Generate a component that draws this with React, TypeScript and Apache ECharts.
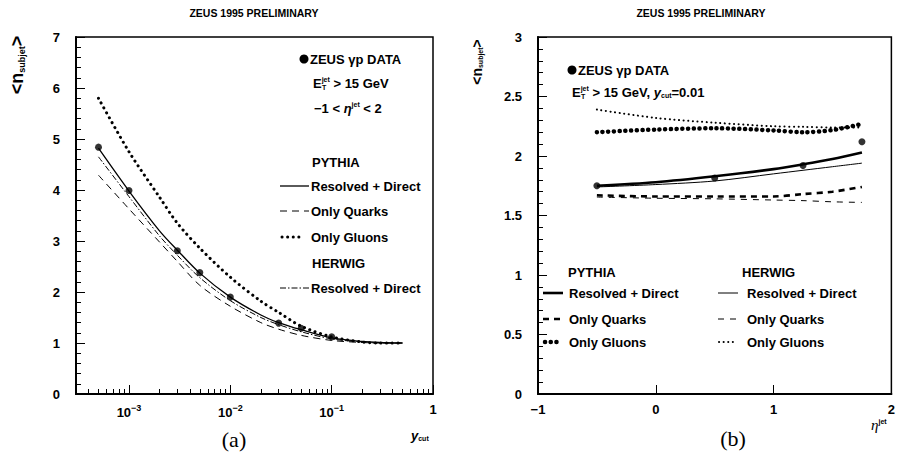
import React, { useEffect, useRef } from "react";
import * as echarts from "echarts";

// ---------- Panel (a): <n_subjet> vs y_cut ----------
const ycutValues = [0.0005, 0.001, 0.002, 0.003, 0.005, 0.01, 0.02, 0.03, 0.05, 0.1, 0.2, 0.3, 0.5];
const pythiaResolvedA = [4.82, 3.98, 3.2, 2.82, 2.37, 1.9, 1.55, 1.4, 1.26, 1.1, 1.03, 1.01, 1.0];
const pythiaQuarksA = [4.29, 3.63, 2.98, 2.6, 2.13, 1.72, 1.4, 1.27, 1.15, 1.05, 1.01, 1.0, 1.0];
const pythiaGluonsA = [5.8, 4.75, 3.86, 3.35, 2.86, 2.29, 1.82, 1.6, 1.33, 1.12, 1.02, 1.0, 1.0];
const herwigResolvedA = [4.65, 3.87, 3.1, 2.72, 2.28, 1.83, 1.5, 1.36, 1.22, 1.08, 1.02, 1.0, 1.0];
const dataYcutA = [0.0005, 0.001, 0.003, 0.005, 0.01, 0.03, 0.05, 0.1];
const dataNSubjetA = [4.84, 3.99, 2.81, 2.38, 1.9, 1.39, 1.29, 1.12];
const yTicksA = [0, 1, 2, 3, 4, 5, 6, 7];
const xDecadesA = [-3, -2, -1, 0];

// ---------- Panel (b): <n_subjet> vs eta_jet ----------
const etaValues = [-0.5, 0, 0.5, 1.0, 1.25, 1.5, 1.75];
const pythiaResolvedB = [1.75, 1.78, 1.83, 1.89, 1.93, 1.975, 2.03];
const pythiaQuarksB = [1.67, 1.66, 1.66, 1.66, 1.68, 1.7, 1.74];
const pythiaGluonsB = [2.2, 2.222, 2.233, 2.215, 2.2, 2.218, 2.27];
const herwigResolvedB = [1.74, 1.76, 1.79, 1.85, 1.88, 1.91, 1.94];
const herwigQuarksB = [1.655, 1.645, 1.64, 1.63, 1.625, 1.615, 1.61];
const herwigGluonsB = [2.39, 2.32, 2.28, 2.25, 2.245, 2.24, 2.24];
const dataEtaB = [-0.5, 0.5, 1.25, 1.75];
const dataNSubjetB = [1.75, 1.815, 1.92, 2.12];

const FONT = '"Liberation Sans", Arial, Helvetica, sans-serif';
const SERIF = '"Liberation Serif", "DejaVu Serif", serif';
const LOG_MIN = Math.log10(0.0003);
const LOG_MAX = 0;

const minorLogTicks: number[] = [];
for (let d = -4; d < 0; d++) {
  for (let k = 2; k <= 9; k++) {
    const v = Math.log10(k * Math.pow(10, d));
    if (v > LOG_MIN + 1e-6 && v < LOG_MAX) minorLogTicks.push(v);
  }
}

const toLogPairs = (xs: number[], ys: number[]) => xs.map((x, i) => [Math.log10(x), ys[i]]);
const toPairs = (xs: number[], ys: number[]) => xs.map((x, i) => [x, ys[i]]);

const richBase = {
  m: { fontSize: 13, fontWeight: "bold", fontFamily: FONT, fill: "#000" },
  i: { fontSize: 13, fontWeight: "bold", fontStyle: "italic", fontFamily: FONT, fill: "#000" },
  s: { fontSize: 7, fontWeight: "bold", fontFamily: FONT, fill: "#000", padding: [0, 0, 8, 0] },
  d: { fontSize: 7, fontWeight: "bold", fontFamily: FONT, fill: "#000", padding: [6, 0, 0, 0] },
};

function label(x: number, y: number, text: string, size = 13, opts: any = {}) {
  return {
    type: "text",
    x,
    y,
    z: 10,
    style: {
      text,
      fontSize: size,
      fontWeight: "bold",
      fontFamily: FONT,
      fill: "#000",
      align: "left",
      verticalAlign: "middle",
      ...opts,
    },
  };
}
function rich(x: number, y: number, text: string, opts: any = {}) {
  return {
    type: "text",
    x,
    y,
    z: 10,
    style: { text, rich: richBase, fill: "#000", align: "left", verticalAlign: "middle", ...opts },
  };
}
function sample(x1: number, x2: number, y: number, lineWidth: number, lineDash?: number[], cap = "butt") {
  return {
    type: "line",
    z: 10,
    shape: { x1, y1: y, x2, y2: y },
    style: { stroke: "#000", lineWidth, lineDash: lineDash || null, lineCap: cap },
  };
}
function yTitle(x: number, y: number, big: number, small: number) {
  return {
    type: "text",
    x,
    y,
    rotation: Math.PI / 2,
    z: 10,
    style: {
      text: "{a|<n}{s|subjet}{a|>}",
      align: "center",
      verticalAlign: "middle",
      fill: "#000",
      rich: {
        a: { fontSize: big, fontWeight: "bold", fontFamily: FONT, fill: "#000" },
        s: { fontSize: small, fontWeight: "bold", fontFamily: FONT, fill: "#000", padding: [small, 0, 0, 0] },
      },
    },
  };
}

const axisLineStyle = { color: "#000", width: 2 };
const labelStyle = { fontSize: 13, fontWeight: "bold", fontFamily: FONT, color: "#000" };

export default function App() {
  const ref = useRef<HTMLDivElement>(null);
  useEffect(() => {
    if (!ref.current) return;
    const chart = echarts.init(ref.current, undefined, { renderer: "svg" });
    const line = (xi: number, yi: number, data: number[][], lineStyle: any, z = 3) => ({
      type: "line",
      xAxisIndex: xi,
      yAxisIndex: yi,
      data,
      symbol: "none",
      smooth: 0.3,
      lineStyle: { color: "#000", ...lineStyle },
      z,
      silent: true,
    });
    const option: any = {
      animation: false,
      backgroundColor: "#fff",
      grid: [
        { left: 76, right: 465, top: 37, bottom: 64, show: true, borderColor: "#000", borderWidth: 1.5 },
        { left: 538, right: 3, top: 37, bottom: 64, show: true, borderColor: "#000", borderWidth: 1.5 },
      ],
      xAxis: [
        {
          type: "value",
          gridIndex: 0,
          min: LOG_MIN,
          max: LOG_MAX,
          axisLine: { onZero: false, lineStyle: axisLineStyle },
          axisTick: { inside: true, length: 9, customValues: xDecadesA, lineStyle: { color: "#000" } },
          axisLabel: {
            customValues: xDecadesA,
            margin: 9,
            formatter: (v: number) => (v === 0 ? "{b|1}" : "{b|10}{s|−" + Math.abs(v) + "}"),
            rich: {
              b: { ...labelStyle },
              s: { fontSize: 9, fontWeight: "bold", fontFamily: FONT, color: "#000", padding: [0, 0, 10, 0] },
            },
          },
          splitLine: { show: false },
        },
        {
          type: "value",
          gridIndex: 0,
          position: "bottom",
          min: LOG_MIN,
          max: LOG_MAX,
          axisLine: { show: false, onZero: false },
          axisTick: { inside: true, length: 5, customValues: minorLogTicks, lineStyle: { color: "#000" } },
          axisLabel: { show: false },
          splitLine: { show: false },
        },
        {
          type: "value",
          gridIndex: 1,
          min: -1,
          max: 2,
          interval: 1,
          axisLine: { onZero: false, lineStyle: axisLineStyle },
          axisTick: { inside: true, length: 9, lineStyle: { color: "#000" } },
          axisLabel: { ...labelStyle, margin: 9, formatter: (v: number) => (v < 0 ? "−" + Math.abs(v) : String(v)) },
          splitLine: { show: false },
        },
      ],
      yAxis: [
        {
          type: "value",
          gridIndex: 0,
          min: yTicksA[0],
          max: yTicksA[yTicksA.length - 1],
          interval: 1,
          axisLine: { onZero: false, lineStyle: axisLineStyle },
          axisTick: { inside: true, length: 9, lineStyle: { color: "#000" } },
          minorTick: { show: true, splitNumber: 5, length: 5, lineStyle: { color: "#000" } },
          axisLabel: { ...labelStyle, margin: 16 },
          splitLine: { show: false },
        },
        {
          type: "value",
          gridIndex: 1,
          min: 0,
          max: 3,
          interval: 0.5,
          axisLine: { onZero: false, lineStyle: axisLineStyle },
          axisTick: { inside: true, length: 9, lineStyle: { color: "#000" } },
          minorTick: { show: true, splitNumber: 5, length: 5, lineStyle: { color: "#000" } },
          axisLabel: { ...labelStyle, margin: 16 },
          splitLine: { show: false },
        },
      ],
      series: [
        line(0, 0, toLogPairs(ycutValues, pythiaResolvedA), { width: 1.3 }),
        line(0, 0, toLogPairs(ycutValues, pythiaQuarksA), { width: 1, type: [7, 5] }),
        line(0, 0, toLogPairs(ycutValues, pythiaGluonsA), { width: 3, type: [0.1, 5.5], cap: "round" }),
        line(0, 0, toLogPairs(ycutValues, herwigResolvedA), { width: 1, type: [6, 2, 1.5, 2] }),
        {
          type: "scatter",
          xAxisIndex: 0,
          yAxisIndex: 0,
          data: toLogPairs(dataYcutA, dataNSubjetA),
          symbol: "circle",
          symbolSize: 7,
          itemStyle: { color: "#000" },
          z: 5,
          silent: true,
        },
        line(2, 1, toPairs(etaValues, pythiaResolvedB), { width: 2.6 }),
        line(2, 1, toPairs(etaValues, herwigResolvedB), { width: 1 }),
        line(2, 1, toPairs(etaValues, pythiaQuarksB), { width: 2.6, type: [6, 5] }),
        line(2, 1, toPairs(etaValues, herwigQuarksB), { width: 1, type: [6, 6] }),
        line(2, 1, toPairs(etaValues, pythiaGluonsB), { width: 4.5, type: [0.1, 5.6], cap: "round" }),
        line(2, 1, toPairs(etaValues, herwigGluonsB), { width: 2, type: [0.1, 4.5], cap: "round" }),
        {
          type: "scatter",
          xAxisIndex: 2,
          yAxisIndex: 1,
          data: toPairs(dataEtaB, dataNSubjetB),
          symbol: "circle",
          symbolSize: 7,
          itemStyle: { color: "#000" },
          z: 5,
          silent: true,
        },
      ],
      graphic: [
        label(254, 13, "ZEUS 1995 PRELIMINARY", 10.5, { align: "center" }),
        label(701, 13, "ZEUS 1995 PRELIMINARY", 10.5, { align: "center" }),
        yTitle(17, 65, 18, 9),
        yTitle(477, 62, 14, 7),
        // x titles
        rich(411, 435, "{i|y}{d|cut}", {}),
        rich(871, 425, "{ie|η}{s|jet}", {
          rich: {
            ...richBase,
            ie: { fontSize: 15, fontStyle: "italic", fontFamily: SERIF, fill: "#000" },
          },
        }),
        { type: "text", x: 234, y: 439, z: 10, style: { text: "(a)", fontSize: 22, fontFamily: SERIF, fill: "#000", align: "center", verticalAlign: "middle" } },
        { type: "text", x: 733, y: 438, z: 10, style: { text: "(b)", fontSize: 22, fontFamily: SERIF, fill: "#000", align: "center", verticalAlign: "middle" } },
        // legend (a)
        { type: "circle", z: 10, shape: { cx: 304, cy: 59, r: 4.5 }, style: { fill: "#000" } },
        label(310, 59, "ZEUS γp DATA"),
        rich(313, 83, "{m|E}{s|jet}{m| > 15 GeV}"),
        label(322, 87, "T", 7),
        rich(314, 108, "{m|−1 < }{i|η}{s|jet}{m| < 2}"),
        label(312, 162, "PYTHIA"),
        sample(280, 309, 186, 1.3),
        label(311, 186, "Resolved + Direct"),
        sample(280, 309, 211, 1, [7, 5]),
        label(311, 211, "Only Quarks"),
        sample(282, 302, 237, 3, [0.1, 5.5], "round"),
        label(311, 237, "Only Gluons"),
        label(312, 263, "HERWIG"),
        sample(280, 309, 288, 1, [6, 2, 1.5, 2]),
        label(311, 288, "Resolved + Direct"),
        // legend (b)
        { type: "circle", z: 10, shape: { cx: 572, cy: 70, r: 4.5 }, style: { fill: "#000" } },
        label(578, 70, "ZEUS γp DATA"),
        rich(572, 92, "{m|E}{s|jet}{m| > 15 GeV, }{i|y}{d|cut}{m|=0.01}"),
        label(581, 96, "T", 7),
        label(568, 272, "PYTHIA"),
        sample(543, 563, 293, 2.6),
        label(569, 293, "Resolved + Direct"),
        sample(543, 563, 319, 2.6, [6, 5]),
        label(569, 319, "Only Quarks"),
        sample(545, 562, 342, 4.5, [0.1, 5.6], "round"),
        label(569, 342, "Only Gluons"),
        label(742, 272, "HERWIG"),
        sample(718, 738, 293, 1),
        label(747, 293, "Resolved + Direct"),
        sample(718, 738, 319, 1, [6, 6]),
        label(747, 319, "Only Quarks"),
        sample(719, 737, 342, 2, [0.1, 4.5], "round"),
        label(747, 342, "Only Gluons"),
      ],
    };
    chart.setOption(option);
    return () => chart.dispose();
  }, []);
  return (
    <div
      ref={ref}
      style={{ position: "absolute", left: 0, top: 0, width: 898, height: 458, background: "#fff" }}
    />
  );
}
